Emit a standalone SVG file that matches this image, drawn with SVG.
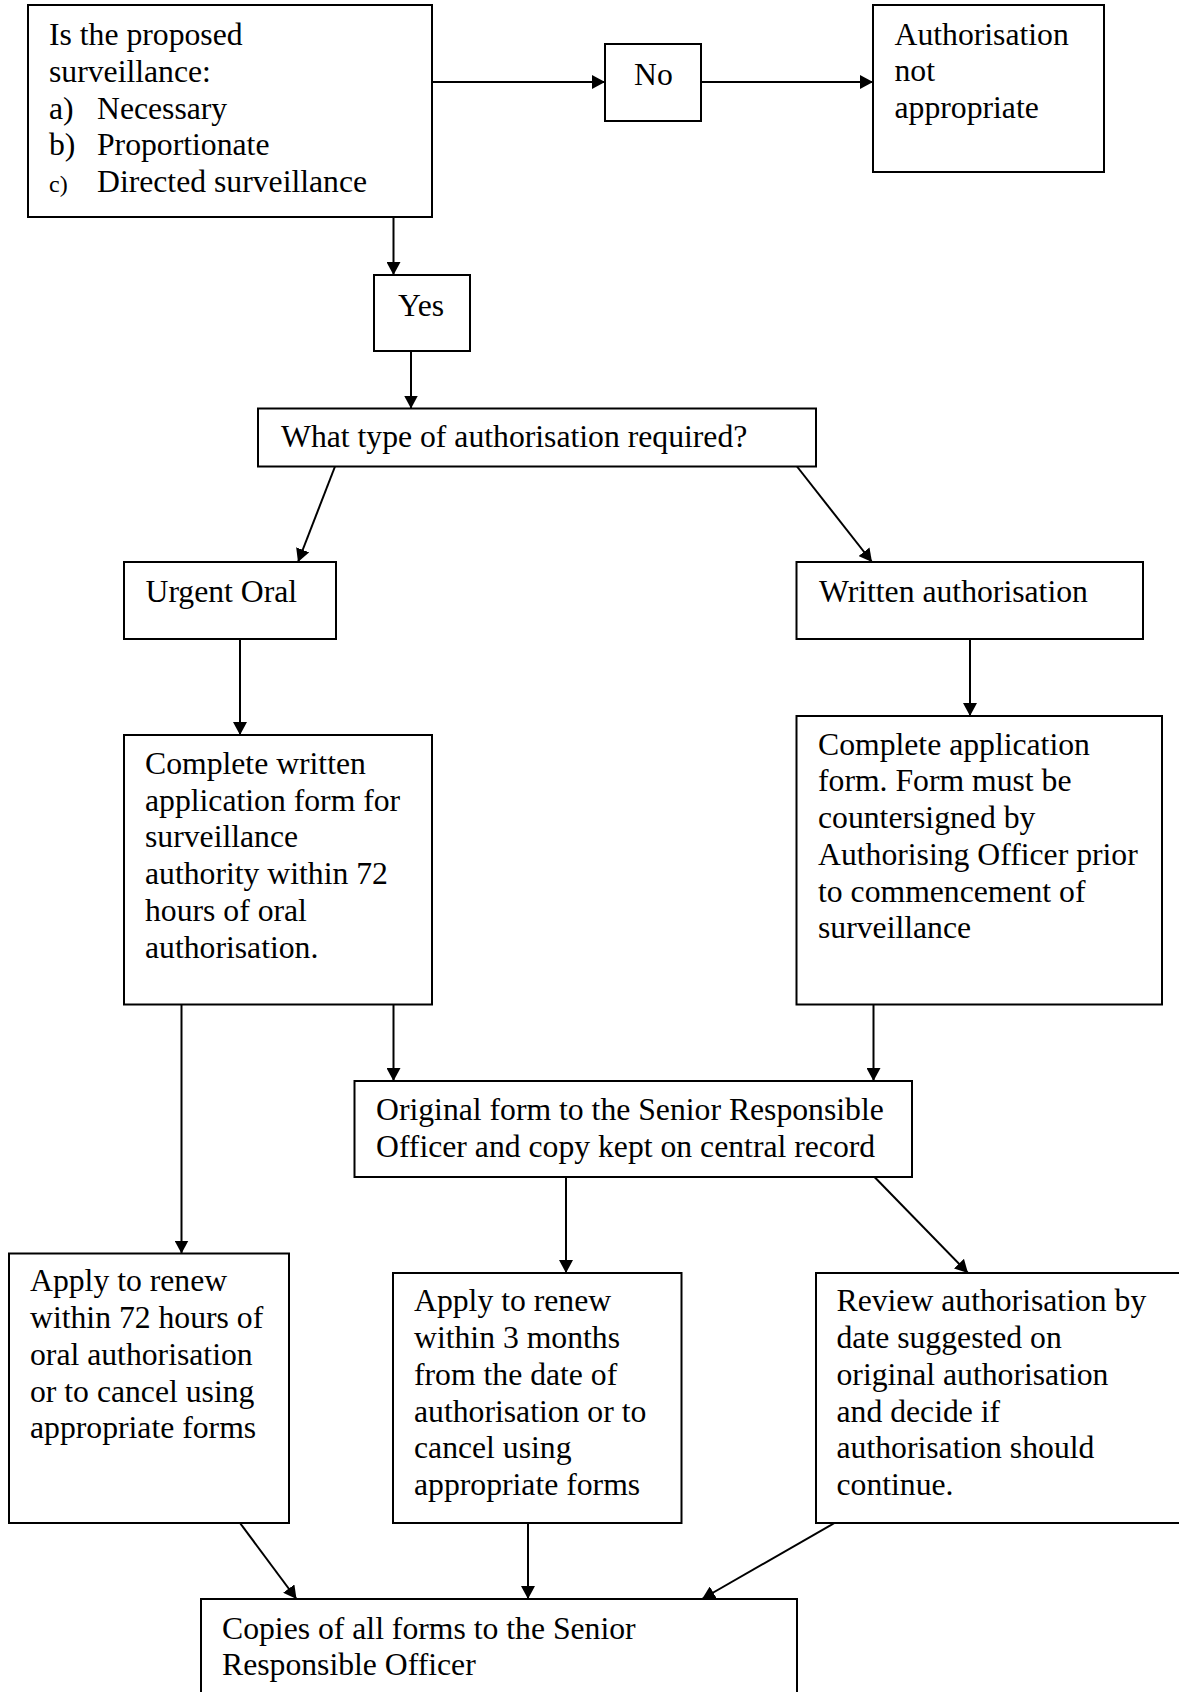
<svg xmlns="http://www.w3.org/2000/svg" width="1179" height="1692" viewBox="0 0 1179 1692">
<defs>
<style>
.box{fill:#fff;stroke:#000;stroke-width:2}
.t{font-family:"Liberation Serif","Times New Roman",serif;font-size:31.7px;fill:#000}
.s{font-size:24px}
.c{stroke:#000;stroke-width:2;fill:none;marker-end:url(#arr)}
</style>
<marker id="arr" markerUnits="userSpaceOnUse" markerWidth="13" markerHeight="14" refX="13" refY="7" orient="auto">
<path d="M0,0 L13,7 L0,14 z" fill="#000"/>
</marker>
</defs>
<rect width="1179" height="1692" fill="#fff"/>
<g id="connectors">
<line class="c" x1="432" y1="82" x2="605" y2="82"/>
<line class="c" x1="701" y1="82" x2="873" y2="82"/>
<line class="c" x1="393.5" y1="217" x2="393.5" y2="275"/>
<line class="c" x1="411" y1="351" x2="411" y2="408.5"/>
<line class="c" x1="335" y1="466.5" x2="298" y2="562"/>
<line class="c" x1="797" y1="466.5" x2="872" y2="562"/>
<line class="c" x1="240" y1="639" x2="240" y2="735"/>
<line class="c" x1="970" y1="639" x2="970" y2="716"/>
<line class="c" x1="181.5" y1="1004.5" x2="181.5" y2="1253.5"/>
<line class="c" x1="393.5" y1="1004.5" x2="393.5" y2="1081"/>
<line class="c" x1="873.5" y1="1004.5" x2="873.5" y2="1081"/>
<line class="c" x1="566" y1="1177" x2="566" y2="1273"/>
<line class="c" x1="874.5" y1="1177" x2="968" y2="1273"/>
<line class="c" x1="240" y1="1523" x2="296.5" y2="1599"/>
<line class="c" x1="528" y1="1523" x2="528" y2="1599"/>
<line class="c" x1="834.5" y1="1523" x2="702" y2="1599"/>
</g>
<g id="n-question">
<rect class="box" x="28" y="5" width="404" height="212"/>
<text class="t" x="49" y="45">Is the proposed</text>
<text class="t" x="49" y="81.8">surveillance:</text>
<text class="t" x="49" y="118.6">a)</text><text class="t" x="97" y="118.6">Necessary</text>
<text class="t" x="49" y="155.4">b)</text><text class="t" x="97" y="155.4">Proportionate</text>
<text class="t s" x="49" y="192.2">c)</text><text class="t" x="97" y="192.2">Directed surveillance</text>
</g>
<g id="n-no">
<rect class="box" x="605" y="44" width="96" height="77"/>
<text class="t" x="634" y="84.5">No</text>
</g>
<g id="n-notappropriate">
<rect class="box" x="873" y="5" width="231" height="167"/>
<text class="t" x="894.5" y="44.5">Authorisation</text>
<text class="t" x="894.5" y="81.2">not</text>
<text class="t" x="894.5" y="118">appropriate</text>
</g>
<g id="n-yes">
<rect class="box" x="374" y="275" width="96" height="76"/>
<text class="t" x="398" y="315.5">Yes</text>
</g>
<g id="n-type">
<rect class="box" x="258" y="408.5" width="558" height="58"/>
<text class="t" x="281" y="447">What type of authorisation required?</text>
</g>
<g id="n-urgent">
<rect class="box" x="124" y="562" width="212" height="77"/>
<text class="t" x="145.5" y="602">Urgent Oral</text>
</g>
<g id="n-written">
<rect class="box" x="796.5" y="562" width="346.5" height="77"/>
<text class="t" x="819" y="602">Written authorisation</text>
</g>
<g id="n-completewritten">
<rect class="box" x="124" y="735" width="308" height="269.5"/>
<text class="t" x="145" y="774">Complete written</text>
<text class="t" x="145" y="810.7">application form for</text>
<text class="t" x="145" y="847.4">surveillance</text>
<text class="t" x="145" y="884.1">authority within 72</text>
<text class="t" x="145" y="920.8">hours of oral</text>
<text class="t" x="145" y="957.5">authorisation.</text>
</g>
<g id="n-completeapp">
<rect class="box" x="796.5" y="716" width="365.5" height="288.5"/>
<text class="t" x="818" y="754.7">Complete application</text>
<text class="t" x="818" y="791.4">form. Form must be</text>
<text class="t" x="818" y="828.1">countersigned by</text>
<text class="t" x="818" y="864.8">Authorising Officer prior</text>
<text class="t" x="818" y="901.5">to commencement of</text>
<text class="t" x="818" y="938.2">surveillance</text>
</g>
<g id="n-original">
<rect class="box" x="354.5" y="1081" width="557.5" height="96"/>
<text class="t" x="376" y="1120">Original form to the Senior Responsible</text>
<text class="t" x="376" y="1157">Officer and copy kept on central record</text>
</g>
<g id="n-renew72">
<rect class="box" x="9" y="1253.5" width="280" height="269.5"/>
<text class="t" x="30" y="1291">Apply to renew</text>
<text class="t" x="30" y="1328">within 72 hours of</text>
<text class="t" x="30" y="1365">oral authorisation</text>
<text class="t" x="30" y="1401.5">or to cancel using</text>
<text class="t" x="30" y="1438">appropriate forms</text>
</g>
<g id="n-renew3m">
<rect class="box" x="393" y="1273" width="288.5" height="250"/>
<text class="t" x="414" y="1311">Apply to renew</text>
<text class="t" x="414" y="1348">within 3 months</text>
<text class="t" x="414" y="1385">from the date of</text>
<text class="t" x="414" y="1421.5">authorisation or to</text>
<text class="t" x="414" y="1458">cancel using</text>
<text class="t" x="414" y="1495">appropriate forms</text>
</g>
<g id="n-review">
<rect class="box" x="816" y="1273" width="380" height="250"/>
<text class="t" x="836.5" y="1311">Review authorisation by</text>
<text class="t" x="836.5" y="1348">date suggested on</text>
<text class="t" x="836.5" y="1385">original authorisation</text>
<text class="t" x="836.5" y="1421.5">and decide if</text>
<text class="t" x="836.5" y="1458">authorisation should</text>
<text class="t" x="836.5" y="1495">continue.</text>
</g>
<g id="n-copies">
<rect class="box" x="201" y="1599" width="596" height="110"/>
<text class="t" x="222" y="1638.6">Copies of all forms to the Senior</text>
<text class="t" x="222" y="1675">Responsible Officer</text>
</g>
</svg>
